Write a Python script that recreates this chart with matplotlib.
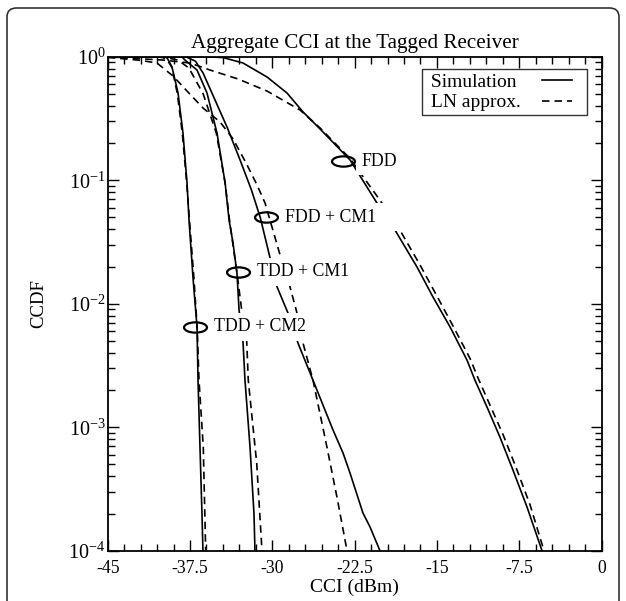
import matplotlib
matplotlib.use("Agg")
import matplotlib.pyplot as plt
from matplotlib.path import Path
from matplotlib.transforms import Affine2D
from matplotlib.patches import FancyBboxPatch
from matplotlib.legend_handler import HandlerLine2D
from matplotlib.lines import Line2D
import matplotlib.ticker as mticker

plt.rcParams['font.family'] = ['Liberation Serif', 'DejaVu Serif']
plt.rcParams['mathtext.fontset'] = 'stix'

# ---------------- data (CCI in dBm, CCDF) ----------------
tdd_cm2_sim_x = [-45, -40.2, -39.8, -39.58, -39.14, -38.59, -38.14, -37.77, -37.59, -37.23, -36.86, -36.77, -36.59, -36.41, -36.32]
tdd_cm2_sim_y = [1.0, 1.0, 0.995, 0.976, 0.825, 0.508, 0.241, 0.0949, 0.0476, 0.0164, 0.00647, 0.00241, 6.9e-4, 2.0e-4, 1.0e-4]
tdd_cm2_ln_x = [-45, -40.6, -40.0, -39.6, -39.15, -38.65, -38.2, -37.8, -37.55, -37.15, -36.85, -36.68, -36.29, -36.15, -36.07]
tdd_cm2_ln_y = [1.0, 0.998, 0.985, 0.95, 0.82, 0.5, 0.24, 0.095, 0.0476, 0.0164, 0.0065, 0.0024, 6.9e-4, 2.0e-4, 1.0e-4]

tdd_cm1_sim_x = [-45, -38.6, -38.2, -37.96, -36.86, -35.95, -35.04, -34.30, -33.94, -33.58, -33.22, -33.03, -32.67, -32.49, -32.03, -31.67, -31.58]
tdd_cm1_sim_y = [1.0, 1.0, 0.99, 0.94, 0.78, 0.508, 0.241, 0.0949, 0.0476, 0.031, 0.0177, 0.0089, 0.0049, 0.00241, 6.9e-4, 2.0e-4, 1.0e-4]
tdd_cm1_ln_x = [-45, -40.0, -38.6, -37.6, -36.3, -35.1, -34.3, -33.9, -33.22, -32.79, -32.33, -32.19, -31.42, -30.94]
tdd_cm1_ln_y = [1.0, 0.995, 0.94, 0.81, 0.5, 0.24, 0.095, 0.0476, 0.0177, 0.0089, 0.0049, 0.0024, 5.1e-4, 1.0e-4]

fdd_cm1_sim_x = [-45, -38.5, -37.8, -37.0, -36.31, -35.22, -34.13, -32.94, -31.9, -31.1, -30.2, -29.57, -28.57, -27.66, -26.29, -24.47, -23.56, -22.92, -21.74, -21.1, -20.19]
fdd_cm1_sim_y = [1.0, 1.0, 0.99, 0.92, 0.738, 0.446, 0.27, 0.146, 0.0833, 0.05, 0.0234, 0.0137, 0.0084, 0.0048, 0.0024, 9.5e-4, 6.2e-4, 4.26e-4, 2.02e-4, 1.56e-4, 1.0e-4]
fdd_cm1_ln_x = [-45, -42.06, -40.51, -39.05, -37.77, -36.31, -34.76, -33.58, -32.30, -31.39, -30.66, -29.21, -28.39, -27.75, -27.2, -26.29, -25.02, -24.11, -23.19]
fdd_cm1_ln_y = [0.989, 0.935, 0.889, 0.698, 0.527, 0.384, 0.296, 0.216, 0.133, 0.0914, 0.0653, 0.0234, 0.0137, 0.0084, 0.0048, 0.0024, 6.9e-4, 2.72e-4, 1.0e-4]

fdd_sim_x = [-45, -36.59, -34.49, -32.67, -30.48, -28.66, -27.2, -25.65, -22.92, -20.46, -18.82, -16.81, -15.35, -13.8, -12.26, -11.53, -10.44, -9.25, -8.07, -6.79, -5.42]
fdd_sim_y = [1.0, 1.0, 0.985, 0.889, 0.685, 0.508, 0.357, 0.26, 0.146, 0.0653, 0.0395, 0.0198, 0.0113, 0.00648, 0.0035, 0.0024, 0.00146, 8.3e-4, 4.5e-4, 2.26e-4, 1.0e-4]
fdd_ln_x = [-45, -40.0, -37.5, -35.68, -33.12, -30.48, -27.47, -25.65, -22.92, -20.19, -18.55, -16.54, -14.99, -13.53, -11.98, -11.25, -10.15, -8.97, -7.78, -6.51, -5.24]
fdd_ln_y = [0.995, 0.94, 0.889, 0.78, 0.66, 0.527, 0.37, 0.265, 0.15, 0.0689, 0.042, 0.0206, 0.0115, 0.0066, 0.0036, 0.0025, 0.0015, 8.7e-4, 4.7e-4, 2.35e-4, 1.0e-4]

label_names = ['FDD', 'FDD + CM1', 'TDD + CM1', 'TDD + CM2']
label_x = [-23.56, -30.57, -33.13, -37.04]
label_y = [0.143, 0.0503, 0.0181, 0.00648]

legend_labels = [' Simulation ', ' LN approx.']

xtick_vals = [-45, -37.5, -30, -22.5, -15, -7.5, 0]
xtick_labels = ['-45', '-37.5', '-30', '-22.5', '-15', '-7.5', '0']
ytick_vals = [1e-4, 1e-3, 1e-2, 1e-1, 1e0]
ytick_labels = [r'$\mathregular{10^{-4}}$', r'$\mathregular{10^{-3}}$', r'$\mathregular{10^{-2}}$',
                r'$\mathregular{10^{-1}}$', r'$\mathregular{10^{0}}$']


class ShortLine(HandlerLine2D):
    """Legend line that only occupies the left part of the handle box."""
    def create_artists(self, legend, orig_handle, xdescent, ydescent, width,
                       height, fontsize, trans):
        return super().create_artists(legend, orig_handle, xdescent, ydescent,
                                      width * 0.72, height, fontsize, trans)


# ---------------- figure ----------------
fig = plt.figure(figsize=(6.26, 6.01), dpi=100)
W, H = 626, 601
ax = fig.add_axes([107.7 / W, 1 - 550.7 / H, (601.5 - 107.7) / W, (550.7 - 56.7) / H])

# rounded frame around the figure
frame = FancyBboxPatch((7 / W, -0.05), (619 - 7) / W, 1 - 8 / H + 0.05,
                       boxstyle="round,pad=0,rounding_size=0.015",
                       transform=fig.transFigure, fill=False, ec='#222222', lw=1.1,
                       clip_on=False)
fig.patches.append(frame)

solid_kw = dict(color='black', lw=1.2, ls='-', solid_joinstyle='round')
dash_kw = dict(color='black', lw=1.2, ls=(0, (4.5, 3)))

h_sim, = ax.plot(fdd_sim_x, fdd_sim_y, **solid_kw, zorder=2)
h_ln, = ax.plot(fdd_ln_x, fdd_ln_y, **dash_kw, zorder=2)
ax.plot(fdd_cm1_sim_x, fdd_cm1_sim_y, **solid_kw, zorder=2)
ax.plot(fdd_cm1_ln_x, fdd_cm1_ln_y, **dash_kw, zorder=2)
ax.plot(tdd_cm1_sim_x, tdd_cm1_sim_y, **solid_kw, zorder=2)
ax.plot(tdd_cm1_ln_x, tdd_cm1_ln_y, **dash_kw, zorder=2)
ax.plot(tdd_cm2_sim_x, tdd_cm2_sim_y, **solid_kw, zorder=2)
ax.plot(tdd_cm2_ln_x, tdd_cm2_ln_y, **dash_kw, zorder=2)

# ellipse markers and labels
ell = Path.unit_circle().transformed(Affine2D().scale(1.0, 0.45))
texts = ['FDD', 'FDD + CM1        ', 'TDD + CM1', 'TDD + CM2']
for name, t, lx, ly in zip(label_names, texts, label_x, label_y):
    ax.annotate(t, xy=(lx, ly), xytext=(13.5, 0), textcoords='offset points',
                ha='left', va='center', fontsize=12.8, zorder=4,
                bbox=dict(boxstyle='square,pad=0.3', fc='white', ec='none'))
    ax.plot([lx], [ly], marker=ell, ms=16.5, mfc='none', mec='black', mew=1.6,
            ls='none', zorder=5)

ax.set_yscale('log')
ax.set_xlim(-45, 0)
ax.set_ylim(1e-4, 1)
ax.set_xticks(xtick_vals)
ax.set_xticklabels(xtick_labels, fontsize=12.7)
ax.xaxis.set_minor_locator(mticker.MultipleLocator(1.5))
ax.set_yticks(ytick_vals)
ax.set_yticklabels(ytick_labels, fontsize=14.5)
ax.yaxis.set_minor_locator(mticker.LogLocator(base=10, subs=range(2, 10)))
ax.yaxis.set_minor_formatter(mticker.NullFormatter())
ax.tick_params(which='both', direction='in', top=True, right=True, width=1.0, color='black')
ax.tick_params(which='major', length=8)
ax.tick_params(which='minor', length=5)
ax.tick_params(axis='x', which='major', pad=7)
ax.tick_params(axis='y', which='major', pad=1.5)
for s in ax.spines.values():
    s.set_linewidth(1.3)

ax.set_title('Aggregate CCI at the Tagged Receiver', fontsize=15.2, pad=6)
ax.set_xlabel('CCI (dBm)', fontsize=14, labelpad=1)
ax.set_ylabel('CCDF', fontsize=13.5, labelpad=15)

leg = ax.legend([h_sim, h_ln], legend_labels, loc='upper right',
                bbox_to_anchor=(0.9707, 0.975), fontsize=14,
                frameon=True, fancybox=False, handlelength=2.1, handletextpad=1.1,
                borderpad=0.2, labelspacing=0.17, borderaxespad=0, markerfirst=False,
                handler_map={Line2D: ShortLine()})
leg.get_frame().set_edgecolor('black')
leg.get_frame().set_linewidth(1.0)

fig.savefig('out.png', dpi=100)
